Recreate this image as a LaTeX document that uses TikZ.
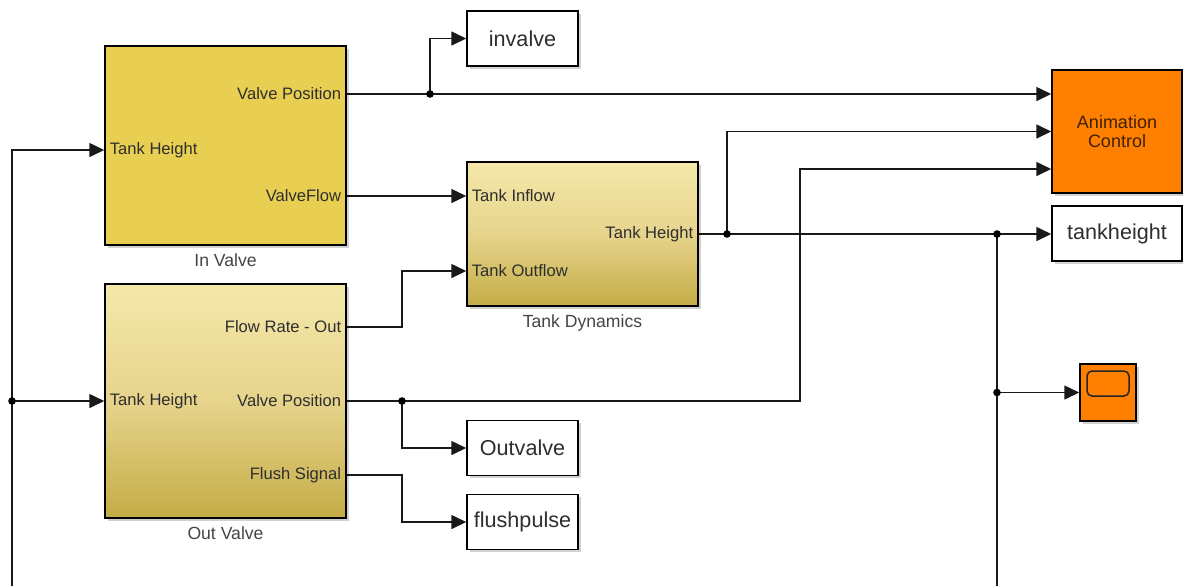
\documentclass[tikz,border=0pt]{standalone}
\usepackage{fontspec}
\setmainfont{Liberation Sans}
\usepackage{xcolor}
\usepackage{tikz}
\usetikzlibrary{arrows.meta, positioning, calc, shadows}
\definecolor{sl-yellow}{HTML}{E8CF52}
\definecolor{sl-light}{HTML}{F4E8AA}
\definecolor{sl-mid}{HTML}{E6D48C}
\definecolor{sl-dark}{HTML}{C4AC46}
\definecolor{sl-orange}{HTML}{FF8000}
\definecolor{sl-text}{HTML}{2E2E2E}
\definecolor{sl-gray}{HTML}{444444}

\tikzset{
    block/.style={draw=black, line width=0.75pt, inner sep=0pt,
        drop shadow={shadow xshift=1.3pt, shadow yshift=-1.3pt, opacity=0.3, fill=black!60}},
    subsys/.style={block, top color=sl-light, bottom color=sl-dark, middle color=sl-mid},
    sink/.style={block, fill=white, minimum width=55.5pt, minimum height=27.5pt,
        font=\fontsize{10.8}{12}\selectfont, text=sl-text},
    portin/.style={anchor=west, inner sep=2.6pt, font=\fontsize{8.3}{10}\selectfont, text=sl-text},
    portout/.style={anchor=east, inner sep=2.6pt, font=\fontsize{8.3}{10}\selectfont, text=sl-text},
    blockname/.style={inner sep=1pt, font=\fontsize{8.8}{10}\selectfont, text=sl-gray},
    wire/.style={line width=0.8pt, draw=black!90},
    sig/.style={wire, -{Triangle[length=7.5pt, width=7pt]}},
}

\begin{document}
\begin{tikzpicture}[x=0.5pt, y=-0.5pt]
    \useasboundingbox (0,0) rectangle (1183,586);

    % subsystems
    \node (inv) [block, fill=sl-yellow, minimum width=120.5pt, minimum height=99.5pt] at (225.5,145.5) {};
    \node (inv-name) [blockname, below=3pt of inv] {In Valve};
    \node (outv) [subsys, minimum width=120.5pt, minimum height=117pt] at (225.5,401) {};
    \node (outv-name) [blockname, below=3pt of outv] {Out Valve};
    \node (tank) [subsys, minimum width=115.5pt, minimum height=72pt] at (582.5,234) {};
    \node (tank-name) [blockname, below=3pt of tank] {Tank Dynamics};

    % port labels
    \node (inv-th) [portin] at (inv.west |- 0,150) {Tank Height};
    \node (inv-vp) [portout] at (inv.east |- 0,94) {Valve Position};
    \node (inv-vf) [portout] at (inv.east |- 0,196) {ValveFlow};
    \node (tank-in) [portin] at (tank.west |- 0,196) {Tank Inflow};
    \node (tank-out) [portin] at (tank.west |- 0,271) {Tank Outflow};
    \node (tank-th) [portout] at (tank.east) {Tank Height};
    \node (outv-th) [portin] at (outv.west) {Tank Height};
    \node (outv-fr) [portout] at (outv.east |- 0,327) {Flow Rate - Out};
    \node (outv-vp) [portout] at (outv.east) {Valve Position};
    \node (outv-fs) [portout] at (outv.east |- 0,475) {Flush Signal};

    % sinks
    \node (invalve) [sink] at (522.5,38.5) {invalve};
    \node (outvalve) [sink] at (522.5,448) {Outvalve};
    \node (flush) [sink] at (522.5,522) {flushpulse};
    \node (tankheight) [sink, minimum width=65pt] at (1117,233.5) {tankheight};
    \node (anim) [block, fill=sl-orange, minimum width=65pt, minimum height=61.5pt, align=center,
        font=\fontsize{9}{9.2}\selectfont, text=black!75!sl-orange] at (1117,131.5) {Animation\\Control};
    \node (scope) [block, fill=sl-orange, minimum width=28pt, minimum height=28.5pt] at (1108,392.5) {};
    \node (scope-screen) [draw=black!85, line width=0.75pt, rounded corners=2.5pt, fill=sl-orange,
        minimum width=21pt, minimum height=12.5pt, inner sep=0pt] at ($(scope.center)+(0,-9)$) {};

    % branch points
    \coordinate (j-vp) at (430,94);
    \coordinate (j-th) at (727,234);
    \coordinate (j-sc) at (997,234);
    \coordinate (j-sc2) at (997,392.5);
    \coordinate (j-fb) at (12,401);
    \coordinate (j-ov) at (402,401);
    \coordinate (fb-right) at (997,586);
    \coordinate (fb-left) at (12,586);

    % signals
    \draw[sig] (inv.east |- 0,94) -- (anim.west |- 0,94);
    \draw[sig] (j-vp) |- (invalve.west);
    \draw[sig] (inv.east |- 0,196) -- (tank.west |- 0,196);
    \draw[sig] (tank.east) -- (tank.east -| tankheight.west);
    \draw[sig] (j-th) |- (anim.west |- 0,131.5);
    \draw[sig] (j-sc2) -- (scope.west);
    \draw[wire] (j-sc) -- (fb-right);
    \draw[sig] (fb-left) |- (inv.west |- 0,150);
    \draw[sig] (j-fb) -- (outv.west);
    \draw[sig] (outv.east |- 0,327) -- (402,327) |- (tank.west |- 0,271);
    \draw[sig] (outv.east) -- (800,401) |- (anim.west |- 0,169);
    \draw[sig] (j-ov) |- (outvalve.west);
    \draw[sig] (outv.east |- 0,475) -- (402,475) |- (flush.west);

    \foreach \j in {j-vp, j-th, j-sc, j-sc2, j-fb, j-ov}
        \fill (\j) circle (1.9pt);
\end{tikzpicture}
\end{document}
